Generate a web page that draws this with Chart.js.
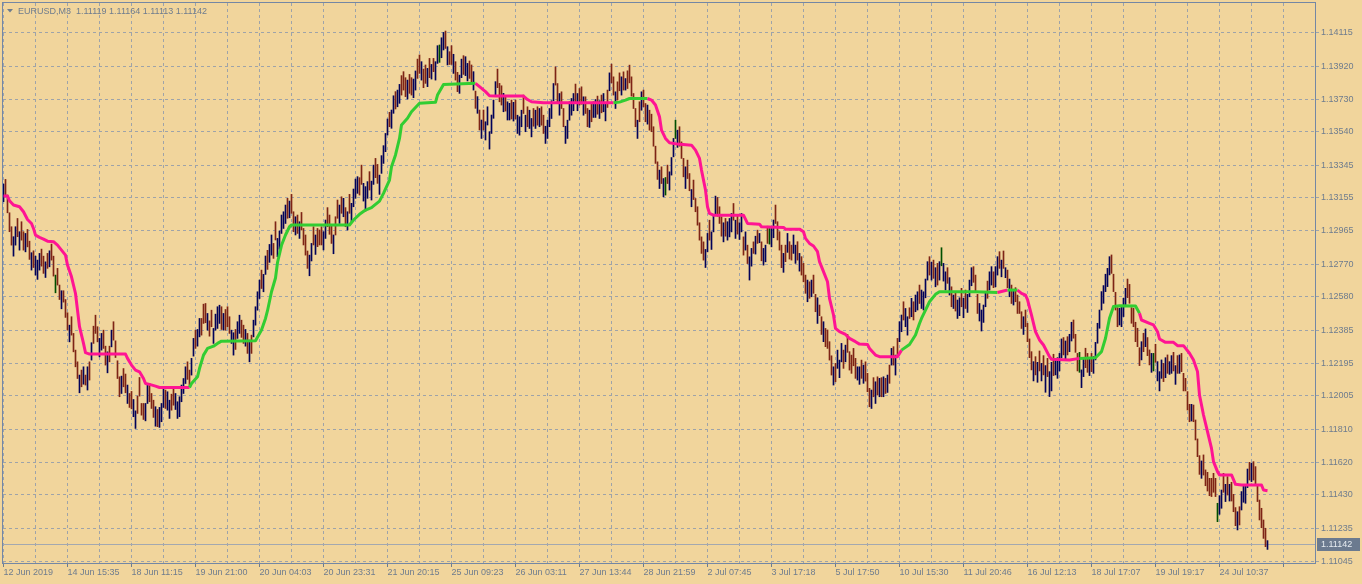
<!DOCTYPE html>
<html lang="en">
<head>
  <meta charset="UTF-8">
  <title>EURUSD,M3</title>
  <script src="https://cdn.jsdelivr.net/npm/chart.js"></script>
  <style>
    html, body { margin: 0; padding: 0; background: #f1d59c; overflow: hidden; }
    #chart { display: block; }
  </style>
</head>
<body>
  <canvas id="chart" width="1362" height="584"></canvas>
  <script>
    const symbolTitle = 'EURUSD,M3  1.11119 1.11164 1.11113 1.11142';
    const lastPrice = 1.11142;

    // one x label every 32 bars, grid every 16
    const xTickLabels = ['12 Jun 2019', '14 Jun 15:35', '18 Jun 11:15', '19 Jun 21:00', '20 Jun 04:03',
      '20 Jun 23:31', '21 Jun 20:15', '25 Jun 09:23', '26 Jun 03:11', '27 Jun 13:44', '28 Jun 21:59',
      '2 Jul 07:45', '3 Jul 17:18', '5 Jul 17:50', '10 Jul 15:30', '11 Jul 20:46', '16 Jul 12:13',
      '18 Jul 17:07', '19 Jul 19:17', '24 Jul 10:37'];
    const yTickValues = [1.11045, 1.11235, 1.11430, 1.11620, 1.11810, 1.12005, 1.12195, 1.12385, 1.12580,
      1.12770, 1.12965, 1.13155, 1.13345, 1.13540, 1.13730, 1.13920, 1.14115];

    // bar highs / lows, one per 3 minute bar
    const barHigh = [
      1.13236,1.13263,1.13172,1.13069,1.12988,1.12930,1.12988,1.13036,1.12959,1.13017,
      1.12959,1.12949,1.12972,1.12904,1.12837,1.12848,1.12817,1.12794,1.12833,1.12858,
      1.12817,1.12784,1.12833,1.12848,1.12887,1.12817,1.12707,1.12746,1.12649,1.12616,
      1.12616,1.12565,1.12488,1.12416,1.12465,1.12368,1.12271,1.12203,1.12126,1.12155,
      1.12174,1.12126,1.12174,1.12203,1.12314,1.12410,1.12474,1.12407,1.12339,1.12368,
      1.12387,1.12294,1.12261,1.12294,1.12387,1.12436,1.12325,1.12209,1.12116,1.12120,
      1.12164,1.12132,1.12068,1.12019,1.12031,1.11984,1.11918,1.12004,1.12112,1.11961,
      1.11961,1.11961,1.12077,1.12077,1.12019,1.11980,1.11942,1.11926,1.11938,1.11961,
      1.12048,1.12039,1.12029,1.11980,1.12015,1.12048,1.12019,1.11971,1.12000,1.12068,
      1.12106,1.12174,1.12203,1.12155,1.12223,1.12339,1.12387,1.12391,1.12455,1.12455,
      1.12538,1.12542,1.12484,1.12441,1.12503,1.12397,1.12480,1.12523,1.12532,1.12523,
      1.12484,1.12507,1.12523,1.12465,1.12387,1.12372,1.12391,1.12436,1.12474,1.12445,
      1.12416,1.12391,1.12368,1.12329,1.12358,1.12445,1.12523,1.12610,1.12678,1.12736,
      1.12711,1.12818,1.12851,1.12885,1.12940,1.12891,1.13017,1.12920,1.12963,1.13056,
      1.13075,1.13114,1.13153,1.13137,1.13176,1.13075,1.13046,1.13056,1.13017,1.13071,
      1.12978,1.12940,1.12847,1.12823,1.12891,1.12988,1.12940,1.12978,1.12969,1.12988,
      1.12959,1.13027,1.13099,1.13056,1.12998,1.12940,1.13046,1.13143,1.13114,1.13162,
      1.13153,1.13099,1.13075,1.13176,1.13124,1.13207,1.13265,1.13279,1.13273,1.13346,
      1.13240,1.13221,1.13250,1.13308,1.13253,1.13346,1.13385,1.13350,1.13288,1.13401,
      1.13459,1.13530,1.13614,1.13653,1.13666,1.13749,1.13773,1.13782,1.13815,1.13866,
      1.13889,1.13854,1.13840,1.13873,1.13854,1.13846,1.13893,1.13962,1.13986,1.13947,
      1.13904,1.13928,1.13908,1.13966,1.13931,1.13966,1.13947,1.14040,1.14044,1.14086,
      1.14117,1.14125,1.14034,1.14005,1.14040,1.13990,1.13947,1.13885,1.13869,1.13962,
      1.13982,1.13976,1.13937,1.13951,1.13928,1.13889,1.13776,1.13744,1.13666,1.13608,
      1.13666,1.13598,1.13685,1.13540,1.13637,1.13724,1.13831,1.13904,1.13821,1.13807,
      1.13763,1.13744,1.13714,1.13705,1.13724,1.13711,1.13724,1.13636,1.13627,1.13665,
      1.13753,1.13636,1.13685,1.13665,1.13617,1.13675,1.13665,1.13685,1.13675,1.13685,
      1.13636,1.13572,1.13607,1.13675,1.13720,1.13820,1.13917,1.13820,1.13762,1.13772,
      1.13675,1.13572,1.13607,1.13714,1.13733,1.13762,1.13817,1.13762,1.13791,1.13801,
      1.13743,1.13743,1.13675,1.13665,1.13700,1.13714,1.13727,1.13747,1.13720,1.13753,
      1.13762,1.13708,1.13782,1.13882,1.13933,1.13859,1.13772,1.13830,1.13882,1.13859,
      1.13888,1.13849,1.13894,1.13927,1.13859,1.13762,1.13675,1.13607,1.13714,1.13772,
      1.13782,1.13704,1.13695,1.13665,1.13642,1.13569,1.13456,1.13365,1.13317,1.13336,
      1.13268,1.13274,1.13346,1.13307,1.13390,1.13501,1.13607,1.13549,1.13569,1.13481,
      1.13385,1.13336,1.13375,1.13297,1.13204,1.13259,1.13152,1.13104,1.13011,1.12929,
      1.12900,1.12856,1.12949,1.13026,1.12958,1.13055,1.13166,1.13158,1.13104,1.13046,
      1.13011,1.13036,1.13017,1.13036,1.13065,1.13123,1.13026,1.13049,1.13011,1.13065,
      1.12929,1.12958,1.12881,1.12813,1.12862,1.12900,1.12933,1.12968,1.12949,1.12900,
      1.12862,1.12881,1.12991,1.12978,1.12978,1.13027,1.13114,1.13017,1.12959,1.12881,
      1.12833,1.12881,1.12949,1.12901,1.12881,1.12940,1.12881,1.12901,1.12833,1.12814,
      1.12775,1.12707,1.12678,1.12668,1.12678,1.12707,1.12595,1.12575,1.12533,1.12465,
      1.12436,1.12397,1.12388,1.12320,1.12238,1.12174,1.12194,1.12271,1.12213,1.12310,
      1.12271,1.12300,1.12362,1.12262,1.12242,1.12281,1.12223,1.12174,1.12174,1.12213,
      1.12184,1.12203,1.12136,1.12049,1.12039,1.12111,1.12087,1.12116,1.12107,1.12111,
      1.12116,1.12107,1.12126,1.12184,1.12281,1.12291,1.12242,1.12339,1.12436,1.12475,
      1.12552,1.12513,1.12465,1.12517,1.12572,1.12552,1.12591,1.12610,1.12649,1.12620,
      1.12610,1.12684,1.12785,1.12814,1.12781,1.12794,1.12750,1.12775,1.12785,1.12866,
      1.12775,1.12726,1.12750,1.12692,1.12639,1.12591,1.12601,1.12562,1.12575,1.12630,
      1.12572,1.12620,1.12595,1.12678,1.12750,1.12756,1.12707,1.12595,1.12542,1.12504,
      1.12533,1.12610,1.12672,1.12726,1.12756,1.12726,1.12756,1.12814,1.12843,1.12794,
      1.12847,1.12750,1.12736,1.12684,1.12649,1.12620,1.12634,1.12591,1.12552,1.12494,
      1.12465,1.12504,1.12427,1.12336,1.12262,1.12204,1.12233,1.12200,1.12266,1.12194,
      1.12239,1.12181,1.12223,1.12146,1.12200,1.12247,1.12223,1.12227,1.12252,1.12336,
      1.12344,1.12324,1.12349,1.12363,1.12433,1.12446,1.12363,1.12252,1.12258,1.12156,
      1.12223,1.12282,1.12252,1.12227,1.12252,1.12233,1.12316,1.12427,1.12504,1.12611,
      1.12646,1.12712,1.12746,1.12814,1.12824,1.12712,1.12607,1.12518,1.12514,1.12524,
      1.12572,1.12630,1.12684,1.12653,1.12518,1.12514,1.12433,1.12398,1.12285,1.12320,
      1.12369,1.12394,1.12344,1.12272,1.12252,1.12252,1.12305,1.12204,1.12146,1.12214,
      1.12194,1.12227,1.12243,1.12204,1.12239,1.12258,1.12181,1.12239,1.12243,1.12252,
      1.12136,1.12107,1.12030,1.11956,1.11956,1.11952,1.11865,1.11755,1.11658,1.11627,
      1.11662,1.11575,1.11561,1.11526,1.11526,1.11555,1.11526,1.11381,1.11425,1.11458,
      1.11555,1.11491,1.11536,1.11491,1.11503,1.11433,1.11356,1.11332,1.11361,1.11449,
      1.11487,1.11487,1.11580,1.11619,1.11613,1.11623,1.11594,1.11487,1.11400,1.11352,
      1.11284,1.11236,1.11164
    ];
    const barLow = [
      1.13133,1.13172,1.13069,1.12959,1.12881,1.12817,1.12881,1.12930,1.12852,1.12910,
      1.12852,1.12842,1.12871,1.12798,1.12736,1.12751,1.12707,1.12682,1.12736,1.12759,
      1.12717,1.12693,1.12746,1.12755,1.12794,1.12701,1.12604,1.12649,1.12565,1.12511,
      1.12550,1.12461,1.12387,1.12319,1.12358,1.12261,1.12174,1.12106,1.12023,1.12058,
      1.12073,1.12068,1.12039,1.12097,1.12213,1.12310,1.12368,1.12319,1.12232,1.12271,
      1.12281,1.12184,1.12139,1.12203,1.12290,1.12329,1.12228,1.12106,1.12000,1.12019,
      1.12058,1.12023,1.11961,1.11938,1.11930,1.11884,1.11816,1.11903,1.12004,1.11893,
      1.11868,1.11860,1.11961,1.11971,1.11932,1.11880,1.11829,1.11826,1.11822,1.11855,
      1.11938,1.11932,1.11922,1.11874,1.11922,1.11951,1.11926,1.11874,1.11884,1.11971,
      1.12019,1.12077,1.12101,1.12058,1.12126,1.12236,1.12281,1.12294,1.12348,1.12358,
      1.12426,1.12430,1.12387,1.12352,1.12407,1.12310,1.12387,1.12397,1.12426,1.12391,
      1.12387,1.12387,1.12407,1.12368,1.12310,1.12242,1.12275,1.12339,1.12368,1.12345,
      1.12310,1.12294,1.12252,1.12203,1.12252,1.12348,1.12416,1.12503,1.12571,1.12629,
      1.12610,1.12711,1.12740,1.12781,1.12823,1.12804,1.12911,1.12814,1.12858,1.12949,
      1.12978,1.13007,1.13037,1.13040,1.13066,1.12959,1.12940,1.12949,1.12920,1.12969,
      1.12882,1.12823,1.12746,1.12703,1.12789,1.12882,1.12827,1.12872,1.12882,1.12882,
      1.12853,1.12920,1.12988,1.12944,1.12891,1.12831,1.12940,1.13037,1.13007,1.13066,
      1.13046,1.12988,1.12969,1.13066,1.13017,1.13104,1.13153,1.13182,1.13172,1.13234,
      1.13137,1.13079,1.13153,1.13201,1.13143,1.13234,1.13273,1.13240,1.13176,1.13298,
      1.13356,1.13424,1.13521,1.13569,1.13560,1.13647,1.13672,1.13685,1.13705,1.13753,
      1.13782,1.13744,1.13730,1.13763,1.13753,1.13738,1.13782,1.13850,1.13879,1.13840,
      1.13796,1.13821,1.13802,1.13854,1.13846,1.13889,1.13840,1.13937,1.13943,1.13970,
      1.14015,1.14024,1.13928,1.13931,1.13931,1.13879,1.13840,1.13773,1.13763,1.13854,
      1.13873,1.13866,1.13835,1.13850,1.13821,1.13782,1.13676,1.13647,1.13550,1.13501,
      1.13550,1.13492,1.13579,1.13439,1.13530,1.13618,1.13744,1.13796,1.13714,1.13695,
      1.13656,1.13660,1.13608,1.13608,1.13614,1.13602,1.13614,1.13530,1.13520,1.13569,
      1.13646,1.13540,1.13569,1.13559,1.13510,1.13572,1.13559,1.13578,1.13569,1.13578,
      1.13530,1.13472,1.13501,1.13569,1.13617,1.13720,1.13811,1.13714,1.13636,1.13675,
      1.13569,1.13472,1.13501,1.13607,1.13636,1.13662,1.13704,1.13662,1.13695,1.13700,
      1.13636,1.13646,1.13569,1.13565,1.13598,1.13623,1.13623,1.13642,1.13617,1.13650,
      1.13656,1.13603,1.13681,1.13778,1.13824,1.13753,1.13675,1.13724,1.13778,1.13753,
      1.13782,1.13782,1.13791,1.13824,1.13747,1.13675,1.13569,1.13501,1.13598,1.13665,
      1.13685,1.13598,1.13584,1.13549,1.13540,1.13456,1.13356,1.13263,1.13210,1.13239,
      1.13162,1.13172,1.13239,1.13201,1.13288,1.13394,1.13501,1.13449,1.13456,1.13385,
      1.13278,1.13210,1.13268,1.13197,1.13104,1.13146,1.13075,1.12997,1.12910,1.12833,
      1.12794,1.12751,1.12842,1.12910,1.12856,1.12958,1.13061,1.13049,1.13007,1.12933,
      1.12900,1.12933,1.12910,1.12929,1.12958,1.13026,1.12920,1.12945,1.12914,1.12958,
      1.12823,1.12852,1.12774,1.12678,1.12759,1.12833,1.12829,1.12891,1.12895,1.12790,
      1.12765,1.12784,1.12891,1.12887,1.12871,1.12924,1.13007,1.12911,1.12852,1.12750,
      1.12723,1.12785,1.12839,1.12800,1.12794,1.12833,1.12775,1.12794,1.12730,1.12707,
      1.12668,1.12601,1.12552,1.12572,1.12581,1.12601,1.12494,1.12426,1.12471,1.12362,
      1.12320,1.12291,1.12281,1.12213,1.12126,1.12068,1.12087,1.12165,1.12111,1.12203,
      1.12165,1.12203,1.12258,1.12155,1.12136,1.12180,1.12107,1.12097,1.12072,1.12107,
      1.12078,1.12091,1.12029,1.11942,1.11932,1.12000,1.11961,1.12010,1.12000,1.12000,
      1.12000,1.12019,1.12025,1.12078,1.12184,1.12184,1.12126,1.12233,1.12320,1.12378,
      1.12446,1.12407,1.12358,1.12455,1.12465,1.12446,1.12494,1.12504,1.12542,1.12513,
      1.12504,1.12575,1.12678,1.12707,1.12678,1.12688,1.12639,1.12649,1.12678,1.12761,
      1.12672,1.12620,1.12659,1.12591,1.12523,1.12513,1.12498,1.12455,1.12471,1.12523,
      1.12459,1.12513,1.12490,1.12581,1.12645,1.12665,1.12610,1.12484,1.12440,1.12382,
      1.12432,1.12523,1.12572,1.12620,1.12649,1.12634,1.12639,1.12707,1.12746,1.12697,
      1.12746,1.12692,1.12634,1.12581,1.12542,1.12533,1.12552,1.12484,1.12484,1.12397,
      1.12362,1.12407,1.12320,1.12227,1.12156,1.12092,1.12127,1.12084,1.12150,1.12092,
      1.12127,1.12026,1.12117,1.12001,1.12034,1.12123,1.12127,1.12107,1.12150,1.12227,
      1.12243,1.12214,1.12243,1.12262,1.12324,1.12340,1.12258,1.12150,1.12142,1.12053,
      1.12117,1.12169,1.12142,1.12123,1.12146,1.12136,1.12214,1.12311,1.12398,1.12504,
      1.12543,1.12611,1.12640,1.12708,1.12717,1.12611,1.12504,1.12407,1.12417,1.12407,
      1.12466,1.12524,1.12576,1.12543,1.12427,1.12407,1.12320,1.12291,1.12181,1.12214,
      1.12262,1.12291,1.12239,1.12185,1.12142,1.12150,1.12200,1.12092,1.12034,1.12107,
      1.12088,1.12111,1.12136,1.12130,1.12136,1.12150,1.12072,1.12136,1.12136,1.12146,
      1.12034,1.12034,1.11923,1.11855,1.11859,1.11855,1.11749,1.11652,1.11549,1.11526,
      1.11545,1.11483,1.11452,1.11425,1.11420,1.11445,1.11420,1.11274,1.11317,1.11352,
      1.11445,1.11391,1.11429,1.11394,1.11394,1.11332,1.11251,1.11226,1.11255,1.11342,
      1.11387,1.11381,1.11472,1.11516,1.11507,1.11516,1.11487,1.11391,1.11284,1.11239,
      1.11177,1.11129,1.11113
    ];
    // n = navy, b = brown, g = green bar
    const barColorCodes = [
      'nbbbbnnbnb', 'bnbbnbnnnb', 'bnbnbbgbbn', 'bbbnbbbbnb', 'nbnbnbbbnn', 'bbnbnbbbbn', 'bbnbbnnbbb',
      'bnnbbbnbnn', 'nbnnbbnnnn', 'nnbbnnbnnb', 'bbnbbnnnnb', 'nbbbnnbnnb', 'bnbnbnnnnb',
      'nnbnnbbnnn', 'nnbnbbnbnb', 'bbbnnbnbbb', 'nnbbbnbbnb', 'nbnbnnnnbb', 'nnnbnnbbnn', 'nnnbnnbnnb',
      'bbnbbnnbbn', 'bbnbnbnngn', 'nbnbbnbbnn', 'bnnbbnbnbn', 'bnnnnnnbbb', 'nbnnbnb',
      'nnn', 'bnbnnbnbnb', 'bnnnnnbbnb', 'bnnnnnbnbb', 'nbbnbnnbnb', 'nnbnbbnbbn', 'bnbbbbbnbn',
      'bbnbbbbbnb', 'ngbnnngnbb', 'bnbbnbbbbb', 'bnnbnnnbbb', 'nbnnnbnbnn', 'bnbnnbnbnb', 'nnbgn',
      'nbbbb', 'nbnbbnnbnb', 'bbnbnbbnbb', 'nbbbbnbnnn', 'bnbbbbbnnb', 'nbbbnbnbnb', 'nbnbnbnbnn',
      'bnnbnbnnbn', 'nnnbnbnbng', 'nnbnbnbnnb', 'nbnnnbbbnn', 'nnbnnbnnbn', 'bnbnbnbbbb', 'nb',
      'bbbnbnbn', 'bnbnnbnnnn', 'bnbnnbbbgn', 'nbbnbnnnnn', 'nnnnbbbbnn', 'nnbbbbbbbn', 'bnbbngbnnn',
      'bnbnnbnbnb', 'bbbbnbbbbn', 'bbbbbbbgnn', 'bnbnbbbnbn', 'nnnbnbbbbb', 'bbn'
    ].join('');

    // indicator line: vertices (bar index, value) and the trend of the segment that starts there
    const lineBar = [0, 2, 3, 5, 8, 10, 12, 14, 15, 16, 18, 20, 22, 25, 27, 29, 31, 32, 34, 36, 37, 38, 40, 41, 43,
      61, 62, 64, 66, 68, 70, 71, 73, 76, 78, 93, 94, 97, 98, 100, 102, 105, 107, 109, 126, 129, 131, 132, 134,
      136, 137, 139, 141, 143, 144, 173, 175, 178, 181, 184, 188, 190, 193, 194, 196, 198, 199, 202, 204, 208,
      216, 217, 220, 236, 238, 241, 243, 246, 260, 262, 264, 270, 305, 308, 311, 313, 322, 324, 326, 328, 329,
      331, 333, 337, 344, 346, 348, 349, 351, 352, 353, 355, 370, 372, 378, 379, 390, 391, 398, 400, 401, 403,
      405, 407, 408, 410, 412, 413, 415, 416, 418, 421, 423, 426, 428, 432, 433, 436, 438, 447, 449, 453, 456,
      458, 459, 461, 463, 466, 468, 486, 497, 502, 505, 507, 509, 511, 512, 514, 516, 518, 520, 523, 524, 533,
      538, 546, 549, 551, 553, 555, 558, 566, 568, 569, 573, 575, 577, 578, 581, 585, 587, 590, 593, 595, 597,
      598, 600, 602, 604, 605, 607, 608, 614, 616, 619, 629, 630, 632];
    const lineValue = [1.13166, 1.13166, 1.13139, 1.13114, 1.13104, 1.13075, 1.13030, 1.13007, 1.12978, 1.12939,
      1.12926, 1.12916, 1.12904, 1.12901, 1.12881, 1.12852, 1.12823, 1.12765, 1.12697, 1.12600, 1.12503, 1.12407,
      1.12310, 1.12256, 1.12248, 1.12248, 1.12223, 1.12184, 1.12155, 1.12145, 1.12106, 1.12077, 1.12072, 1.12062,
      1.12054, 1.12054, 1.12077, 1.12116, 1.12164, 1.12242, 1.12281, 1.12294, 1.12310, 1.12323, 1.12325, 1.12388,
      1.12455, 1.12500, 1.12610, 1.12690, 1.12780, 1.12880, 1.12940, 1.12988, 1.12998, 1.12998, 1.13027, 1.13060,
      1.13085, 1.13099, 1.13137, 1.13182, 1.13259, 1.13337, 1.13405, 1.13501, 1.13579, 1.13618, 1.13656, 1.13705,
      1.13711, 1.13753, 1.13815, 1.13821, 1.13802, 1.13773, 1.13749, 1.13747, 1.13747, 1.13727, 1.13714, 1.13708,
      1.13708, 1.13712, 1.13724, 1.13733, 1.13733, 1.13724, 1.13695, 1.13627, 1.13549, 1.13501, 1.13476, 1.13468,
      1.13462, 1.13433, 1.13385, 1.13317, 1.13201, 1.13104, 1.13065, 1.13055, 1.13055, 1.13007, 1.13003, 1.12988,
      1.12984, 1.12974, 1.12974, 1.12959, 1.12920, 1.12891, 1.12876, 1.12843, 1.12785, 1.12727, 1.12668, 1.12572,
      1.12475, 1.12397, 1.12378, 1.12362, 1.12339, 1.12320, 1.12306, 1.12304, 1.12281, 1.12242, 1.12233, 1.12233,
      1.12271, 1.12304, 1.12359, 1.12426, 1.12455, 1.12504, 1.12552, 1.12595, 1.12610, 1.12610, 1.12606, 1.12620,
      1.12620, 1.12620, 1.12601, 1.12590, 1.12565, 1.12475, 1.12378, 1.12330, 1.12301, 1.12233, 1.12218, 1.12214,
      1.12223, 1.12227, 1.12262, 1.12340, 1.12456, 1.12524, 1.12529, 1.12527, 1.12485, 1.12446, 1.12427, 1.12417,
      1.12378, 1.12336, 1.12316, 1.12316, 1.12297, 1.12297, 1.12253, 1.12214, 1.12146, 1.12010, 1.11894, 1.11797,
      1.11700, 1.11623, 1.11565, 1.11546, 1.11546, 1.11491, 1.11487, 1.11487, 1.11458, 1.11454];
    const lineTrend = [-1, -1, -1, -1, -1, -1, -1, -1, -1, -1, -1, -1, -1, -1, -1, -1, -1, -1, -1, -1, -1, -1, -1, -1, -1,
      -1, -1, -1, -1, -1, -1, -1, -1, -1, -1, 1, 1, 1, 1, 1, 1, 1, 1, 1, 1, 1, 1, 1, 1,
      1, 1, 1, 1, 1, 1, 1, 1, 1, 1, 1, 1, 1, 1, 1, 1, 1, 1, 1, 1, 1,
      1, 1, 1, -1, -1, -1, -1, -1, -1, -1, -1, -1, 1, 1, 1, 1, -1, -1, -1, -1, -1,
      -1, -1, -1, -1, -1, -1, -1, -1, -1, -1, -1, -1, -1, -1, -1, -1, -1, -1, -1, -1, -1,
      -1, -1, -1, -1, -1, -1, -1, -1, -1, -1, -1, -1, -1, -1, -1, -1, -1, -1, 1, 1, 1, 1,
      1, 1, 1, 1, 1, 1, -1, 1, 1, -1, -1, -1, -1, -1, -1, -1, -1, -1, -1, -1, 1,
      1, 1, 1, 1, 1, 1, 1, -1, -1, -1, -1, -1, -1, -1, -1, -1, -1, -1, -1, -1, -1,
      -1, -1, -1, -1, -1, -1, -1, -1, -1, -1, -1, -1, -1];

    const textColor = '#6e7c8e';
    const gridColor = '#9ea3a9';
    const frameColor = '#7487a4';
    const barColors = { n: '#02025a', b: '#7e2416', g: '#004f00' };
    const upColor = '#32cd32';
    const downColor = '#ff1493';

    Chart.defaults.font.family = '"Liberation Sans", Arial, sans-serif';
    Chart.defaults.font.size = 9;
    Chart.defaults.color = textColor;

    const mtPlugin = {
      id: 'mtPlugin',
      beforeDatasetsDraw(chart) {
        const { ctx, chartArea } = chart;
        const y = Math.round(chart.scales.y.getPixelForValue(lastPrice)) + 0.5;
        ctx.save();
        ctx.strokeStyle = '#a3a8b0';
        ctx.lineWidth = 1;
        ctx.beginPath();
        ctx.moveTo(chartArea.left, y);
        ctx.lineTo(chartArea.right, y);
        ctx.stroke();
        ctx.restore();
      },
      afterDraw(chart) {
        const { ctx, chartArea } = chart;
        ctx.save();
        // frame
        ctx.strokeStyle = frameColor;
        ctx.lineWidth = 1;
        ctx.strokeRect(chartArea.left - 0.5, chartArea.top - 0.5,
          chartArea.right - chartArea.left + 1, chartArea.bottom - chartArea.top + 1);

        // last price tag
        const y = Math.round(chart.scales.y.getPixelForValue(lastPrice));
        ctx.fillStyle = '#6b7a8f';
        ctx.fillRect(chartArea.right + 2, y - 6, 43, 13);
        ctx.fillStyle = '#e6ebf0';
        ctx.font = '9px "Liberation Sans", Arial, sans-serif';
        ctx.textBaseline = 'middle';
        ctx.textAlign = 'left';
        ctx.fillText(lastPrice.toFixed(5), chartArea.right + 6, y + 0.5);

        // symbol title
        ctx.fillStyle = textColor;
        ctx.beginPath();
        ctx.moveTo(7, 9);
        ctx.lineTo(13, 9);
        ctx.lineTo(10, 12.5);
        ctx.closePath();
        ctx.fill();
        ctx.textBaseline = 'alphabetic';
        ctx.fillText(symbolTitle, 18, 14);
        ctx.restore();
      }
    };

    const ctx = document.getElementById('chart').getContext('2d');
    const chart = new Chart(ctx, {
      type: 'bar',
      data: {
        datasets: [{
          type: 'line',
          order: 0,
          data: lineBar.map((b, i) => ({ x: b, y: lineValue[i] })),
          borderWidth: 3,
          borderJoinStyle: 'round',
          pointRadius: 0,
          tension: 0,
          segment: {
            borderColor: c => lineTrend[c.p0DataIndex] > 0 ? upColor : downColor
          },
          borderColor: downColor
        }, {
          type: 'bar',
          order: 1,
          data: barHigh.map((h, i) => ({ x: i, y: [barLow[i], h] })),
          backgroundColor: barHigh.map((h, i) => barColors[barColorCodes[i]] || barColors.n),
          borderWidth: 0,
          barThickness: 1,
          grouped: false
        }]
      },
      options: {
        responsive: false,
        animation: false,
        devicePixelRatio: 1,
        layout: { padding: { left: 3, top: 3, right: 0, bottom: 0 } },
        plugins: {
          legend: { display: false },
          tooltip: { enabled: false }
        },
        scales: {
          x: {
            type: 'linear',
            offset: false,
            min: -0.25,
            max: 655.75,
            afterBuildTicks: s => {
              const t = [];
              for (let v = 0; v <= 640; v += 16) t.push({ value: v });
              s.ticks = t;
            },
            afterFit: s => {
              s.height = 21;
              s.paddingLeft = 0;
              s.paddingRight = 0;
            },
            ticks: {
              autoSkip: false,
              maxRotation: 0,
              align: 'start',
              padding: 0,
              color: textColor,
              callback: v => (v % 32 === 0 && xTickLabels[v / 32]) ? xTickLabels[v / 32] : ''
            },
            grid: {
              offset: false,
              color: gridColor,
              tickLength: 4,
              tickColor: c => (c.tick && c.tick.value % 32 === 0) ? textColor : 'rgba(0,0,0,0)',
              tickBorderDash: []
            },
            border: { display: false, dash: [3, 3] }
          },
          y: {
            type: 'linear',
            position: 'right',
            min: 1.11034,
            max: 1.14288,
            afterBuildTicks: s => {
              s.ticks = yTickValues.map(v => ({ value: v }));
            },
            afterFit: s => {
              s.width = 47;
              s.paddingTop = 0;
              s.paddingBottom = 0;
            },
            ticks: {
              padding: 2,
              color: textColor,
              callback: v => v.toFixed(5)
            },
            grid: {
              color: gridColor,
              tickLength: 4,
              tickColor: gridColor,
              tickBorderDash: []
            },
            border: { display: false, dash: [3, 3] }
          }
        }
      },
      plugins: [mtPlugin]
    });
  </script>
</body>
</html>
